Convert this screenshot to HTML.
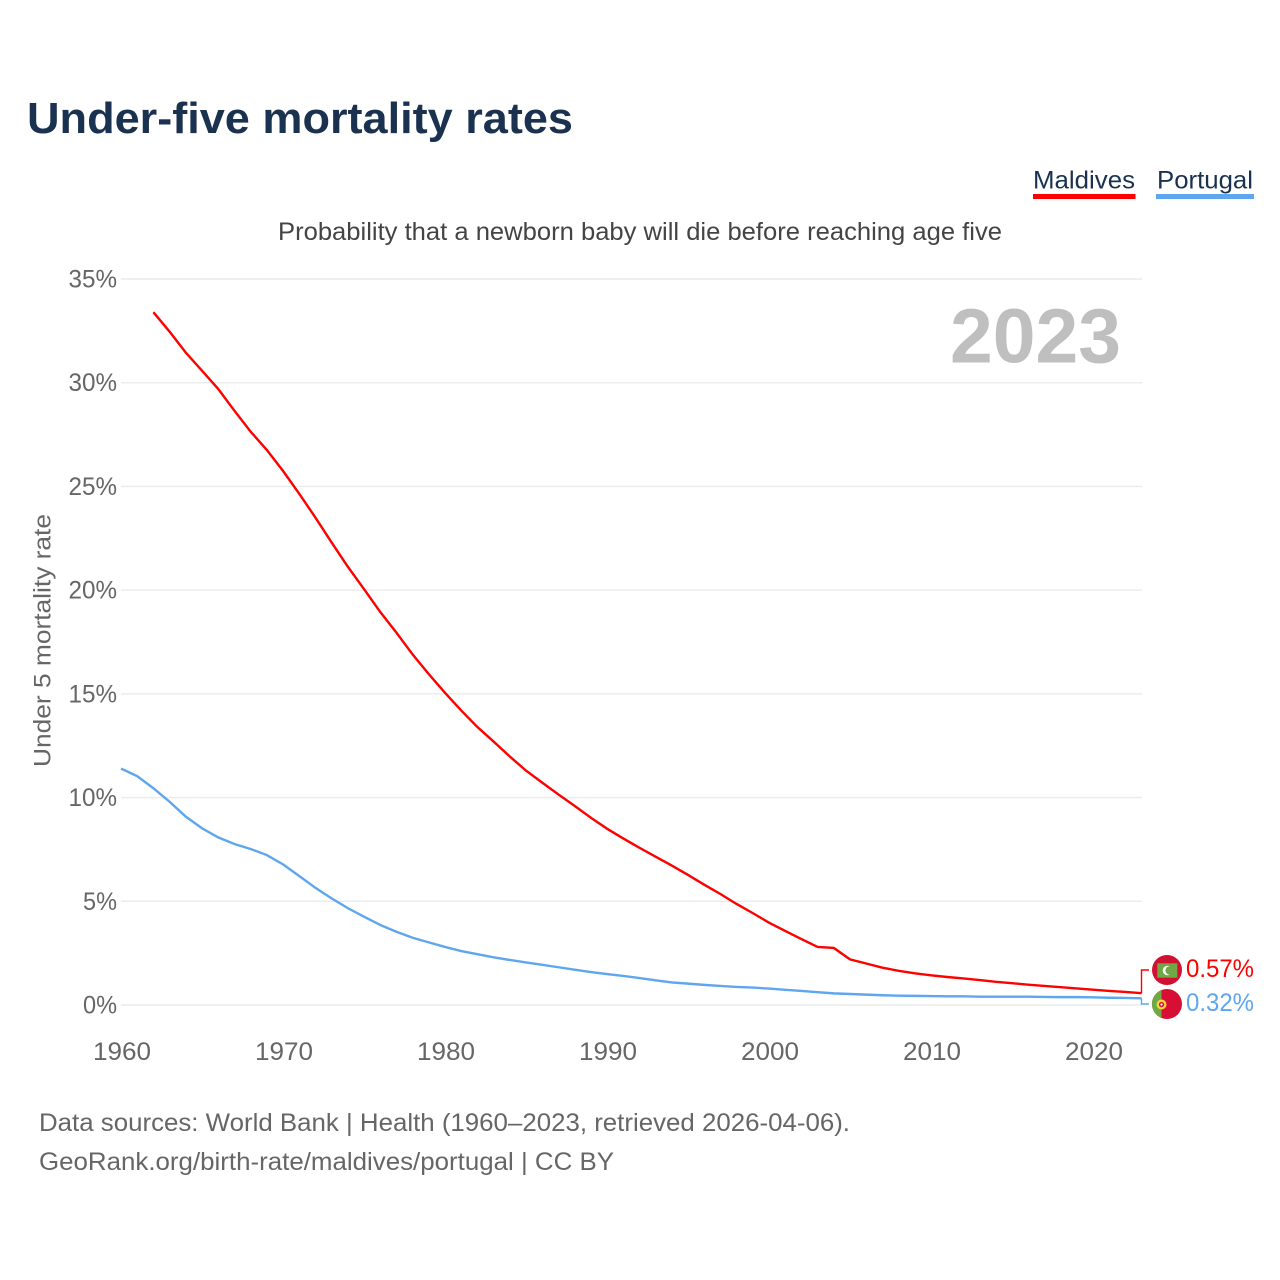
<!DOCTYPE html>
<html lang="en">
<head>
<meta charset="utf-8">
<title>Under-five mortality rates</title>
<style>
html,body{margin:0;padding:0;background:#fff}
svg{display:block}
text{font-family:"Liberation Sans",sans-serif}
</style>
</head>
<body>
<svg id="chart" xmlns="http://www.w3.org/2000/svg" width="1280" height="1280" viewBox="0 0 1280 1280">
  <rect width="1280" height="1280" fill="#fff"/>
  <text x="27" y="133" font-size="44" font-weight="700" fill="#1a3150" textLength="546" lengthAdjust="spacingAndGlyphs">Under-five mortality rates</text>
  <text x="278" y="240" font-size="25" fill="#444" textLength="724" lengthAdjust="spacingAndGlyphs">Probability that a newborn baby will die before reaching age five</text>

  <g>
    <text x="1033" y="188.5" font-size="25" fill="#1a3150" textLength="102" lengthAdjust="spacingAndGlyphs">Maldives</text>
    <rect x="1033" y="194" width="102.5" height="5" fill="#ff0000"/>
  </g>
  <g>
    <text x="1157" y="188.5" font-size="25" fill="#1a3150" textLength="96" lengthAdjust="spacingAndGlyphs">Portugal</text>
    <rect x="1156" y="194" width="98" height="5" fill="#5ea6ee"/>
  </g>

  <g id="grid"></g>
  <g id="yticks"></g>
  <g id="xticks"></g>

  <text transform="translate(50.5,767) rotate(-90)" font-size="24.5" fill="#666" textLength="253" lengthAdjust="spacingAndGlyphs">Under 5 mortality rate</text>
  <text x="950" y="362.5" font-size="77" font-weight="700" fill="#bfbfbf" textLength="171" lengthAdjust="spacingAndGlyphs">2023</text>

  <g id="series"></g>

  <g>
    <circle cx="1167" cy="970" r="15" fill="#d21034"/>
    <rect x="1157.3" y="963.3" width="20" height="14.4" fill="#6fa844"/>
    <circle cx="1167.5" cy="970.5" r="4.8" fill="#fff"/>
    <circle cx="1169.7" cy="970.5" r="4.3" fill="#6fa844"/>
  </g>
  <g>
    <circle cx="1167" cy="1004" r="15" fill="#d80f34"/>
    <path d="M1161.5 990 A15 15 0 0 0 1161.5 1018 Z" fill="#6fa844"/>
    <circle cx="1161.5" cy="1004.5" r="5" fill="#f5d53a"/>
    <circle cx="1161.5" cy="1004.5" r="2.6" fill="#d80f34"/>
    <circle cx="1161.5" cy="1004.5" r="1.1" fill="#fff"/>
  </g>
  <text x="1186" y="977" font-size="25" fill="#ff0000" textLength="68" lengthAdjust="spacingAndGlyphs">0.57%</text>
  <text x="1186" y="1011" font-size="25" fill="#5ea6ee" textLength="68" lengthAdjust="spacingAndGlyphs">0.32%</text>

  <text x="39" y="1131" font-size="25" fill="#666" textLength="811" lengthAdjust="spacingAndGlyphs">Data sources: World Bank | Health (1960–2023, retrieved 2026-04-06).</text>
  <text x="39" y="1170" font-size="25" fill="#666" textLength="575" lengthAdjust="spacingAndGlyphs">GeoRank.org/birth-rate/maldives/portugal | CC BY</text>
</svg>
<script>
const yTickValues = [0, 5, 10, 15, 20, 25, 30, 35];
const xTickYears = [1960, 1970, 1980, 1990, 2000, 2010, 2020];
const maldivesStartYear = 1962;
const portugalStartYear = 1960;
const maldivesValues = [33.4,32.46,31.45,30.58,29.7,28.65,27.64,26.76,25.75,24.65,23.5,22.3,21.13,20.05,18.95,17.95,16.9,15.95,15.05,14.2,13.4,12.7,11.98,11.3,10.72,10.15,9.6,9.03,8.5,8.03,7.58,7.15,6.72,6.27,5.8,5.35,4.87,4.43,3.97,3.57,3.18,2.8,2.75,2.2,2.0,1.8,1.65,1.53,1.43,1.35,1.28,1.2,1.12,1.05,0.98,0.92,0.86,0.8,0.74,0.68,0.63,0.57];
const portugalValues = [11.4,11.03,10.45,9.8,9.08,8.52,8.08,7.76,7.52,7.23,6.78,6.22,5.65,5.14,4.67,4.26,3.86,3.53,3.24,3.02,2.8,2.6,2.45,2.3,2.17,2.05,1.94,1.82,1.7,1.59,1.49,1.4,1.3,1.19,1.09,1.03,0.97,0.92,0.87,0.84,0.79,0.73,0.68,0.62,0.56,0.53,0.5,0.47,0.45,0.44,0.43,0.42,0.42,0.4,0.4,0.4,0.4,0.39,0.38,0.38,0.37,0.35,0.34,0.32];

const NS = 'http://www.w3.org/2000/svg';
function xScale(year) { return 121 + (year - 1960) * 16.2; }
function yScale(value) { return 1005 - value * 20.743; }

const grid = document.getElementById('grid');
const yticks = document.getElementById('yticks');
const xticks = document.getElementById('xticks');
const series = document.getElementById('series');

yTickValues.forEach(function (v) {
  const line = document.createElementNS(NS, 'line');
  
  
  line.setAttribute('x1', 121);
  line.setAttribute('x2', 1142);
  line.setAttribute('y1', yScale(v));
  line.setAttribute('y2', yScale(v));
  line.setAttribute('stroke', '#ececec');
  line.setAttribute('stroke-width', 1.5);
  grid.appendChild(line);

  const label = document.createElementNS(NS, 'text');
  
  
  const text = v + '%';
  const width = String(v).length * 14.5 + 19.5;
  label.setAttribute('x', 117 - width);
  label.setAttribute('y', yScale(v) + 8.5);
  label.setAttribute('font-size', 25);
  label.setAttribute('fill', '#666');
  label.setAttribute('textLength', width);
  label.setAttribute('lengthAdjust', 'spacingAndGlyphs');
  label.textContent = text;
  yticks.appendChild(label);
});

xTickYears.forEach(function (year) {
  const label = document.createElementNS(NS, 'text');
  
  
  label.setAttribute('x', xScale(year) - 28);
  label.setAttribute('y', 1060);
  label.setAttribute('font-size', 25);
  label.setAttribute('fill', '#666');
  label.setAttribute('textLength', 58);
  label.setAttribute('lengthAdjust', 'spacingAndGlyphs');
  label.textContent = year;
  xticks.appendChild(label);
});

function linePath(startYear, values) {
  return values.map(function (v, i) {
    return (i ? 'L' : 'M') + xScale(startYear + i).toFixed(2) + ' ' + yScale(v).toFixed(2);
  }).join(' ');
}

const portugalLine = document.createElementNS(NS, 'path');


portugalLine.setAttribute('d', linePath(portugalStartYear, portugalValues));
portugalLine.setAttribute('fill', 'none');
portugalLine.setAttribute('stroke', '#5ea6ee');
portugalLine.setAttribute('stroke-width', 2.4);
series.appendChild(portugalLine);

const maldivesLine = document.createElementNS(NS, 'path');


maldivesLine.setAttribute('d', linePath(maldivesStartYear, maldivesValues));
maldivesLine.setAttribute('fill', 'none');
maldivesLine.setAttribute('stroke', '#ff0000');
maldivesLine.setAttribute('stroke-width', 2.4);
series.appendChild(maldivesLine);

const maldivesEnd = yScale(maldivesValues[maldivesValues.length - 1]);
const portugalEnd = yScale(portugalValues[portugalValues.length - 1]);

const maldivesConnector = document.createElementNS(NS, 'path');


maldivesConnector.setAttribute('d', 'M1141.5 ' + maldivesEnd + ' V970 H1149');
maldivesConnector.setAttribute('fill', 'none');
maldivesConnector.setAttribute('stroke', '#ff0000');
maldivesConnector.setAttribute('stroke-width', 1.4);
series.appendChild(maldivesConnector);

const portugalConnector = document.createElementNS(NS, 'path');


portugalConnector.setAttribute('d', 'M1141.5 ' + portugalEnd + ' V1004 H1149');
portugalConnector.setAttribute('fill', 'none');
portugalConnector.setAttribute('stroke', '#5ea6ee');
portugalConnector.setAttribute('stroke-width', 1.4);
series.appendChild(portugalConnector);
</script>
</body>
</html>
